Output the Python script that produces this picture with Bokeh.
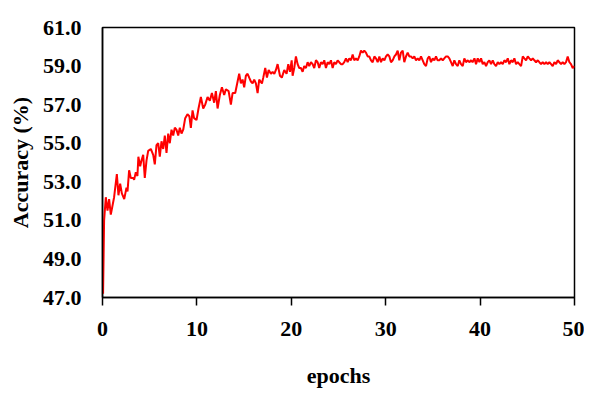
from bokeh.plotting import figure
from bokeh.models import Range1d, FixedTicker, NumeralTickFormatter, ColumnDataSource
from bokeh.embed import file_html
from bokeh.resources import INLINE

epochs = [0.06, 0.17, 0.35, 0.53, 0.7, 0.88, 1.23, 1.52, 1.69, 1.87, 2.05, 2.3, 2.54, 2.65, 2.82, 3.0,
          3.25, 3.35, 3.53, 3.7, 3.8, 3.99, 4.13, 4.31, 4.48, 4.66, 4.84, 5.12, 5.37, 5.54, 5.72, 5.9,
          6.07, 6.25, 6.43, 6.6, 6.78, 6.96, 7.13, 7.31, 7.49, 7.66, 7.84, 8.02, 8.19, 8.37, 8.55, 8.76,
          9.0, 9.2, 9.36, 9.54, 9.7, 9.96, 10.17, 10.42, 10.67, 10.88, 11.13, 11.37, 11.59, 11.83, 12.01,
          12.19, 12.43, 12.65, 12.89, 13.07, 13.36, 13.6, 13.78, 14.06, 14.31, 14.48, 14.66, 14.84, 15.01,
          15.19, 15.37, 15.54, 15.72, 15.9, 16.07, 16.25, 16.43, 16.6, 16.89, 17.03, 17.24, 17.42, 17.6,
          17.84, 18.02, 18.2, 18.37, 18.55, 18.8, 19.0, 19.25, 19.5, 19.68, 19.86, 20.04, 20.14, 20.31,
          20.49, 20.67, 20.84, 21.02, 21.2, 21.37, 21.55, 21.73, 21.9, 22.08, 22.26, 22.43, 22.61, 22.79,
          22.96, 23.14, 23.32, 23.49, 23.67, 23.85, 24.02, 24.2, 24.38, 24.55, 24.73, 24.91, 25.08, 25.26,
          25.44, 25.61, 25.79, 25.97, 26.14, 26.32, 26.5, 26.67, 26.85, 27.03, 27.2, 27.38, 27.56, 27.73,
          27.91, 28.09, 28.26, 28.44, 28.62, 28.8, 28.97, 29.15, 29.33, 29.5, 29.68, 29.86, 30.03, 30.21,
          30.39, 30.56, 30.74, 30.92, 31.09, 31.27, 31.44, 31.62, 31.8, 31.97, 32.15, 32.33, 32.5, 32.68,
          32.86, 33.03, 33.21, 33.39, 33.56, 33.74, 33.92, 34.09, 34.27, 34.45, 34.62, 34.8, 34.98, 35.15,
          35.33, 35.5, 35.68, 35.86, 36.04, 36.21, 36.39, 36.57, 36.74, 36.92, 37.1, 37.27, 37.45, 37.63,
          37.8, 37.98, 38.16, 38.33, 38.51, 38.69, 38.86, 39.04, 39.2, 39.4, 39.57, 39.75, 39.93, 40.1,
          40.28, 40.45, 40.63, 40.81, 40.98, 41.16, 41.34, 41.51, 41.69, 41.87, 42.04, 42.22, 42.4, 42.57,
          42.75, 42.93, 43.1, 43.28, 43.46, 43.63, 43.81, 43.99, 44.16, 44.34, 44.52, 44.69, 44.87, 45.05,
          45.22, 45.4, 45.58, 45.75, 45.93, 46.11, 46.28, 46.46, 46.63, 46.81, 46.99, 47.16, 47.34, 47.52,
          47.69, 47.87, 48.05, 48.22, 48.4, 48.58, 48.75, 48.93, 49.1, 49.28, 49.46, 49.63, 49.81, 50.0]

accuracy = [47.2, 51.0, 52.2, 51.5, 52.1, 51.3, 52.2, 53.4, 52.3, 52.9, 52.4, 52.1, 52.7, 52.5, 53.6, 53.2,
            53.2, 53.1, 53.5, 53.3, 54.3, 53.8, 54.1, 54.4, 53.2, 54.1, 54.6, 54.7, 54.4, 53.9, 54.9, 55.0,
            54.3, 55.1, 54.7, 55.4, 54.5, 55.5, 55.0, 55.7, 55.4, 55.8, 55.7, 55.4, 55.8, 55.5, 55.7, 56.3,
            56.5, 56.4, 55.8, 56.7, 56.3, 56.2, 56.8, 57.4, 56.8, 57.0, 57.4, 57.2, 57.6, 57.1, 57.7,
            56.8, 57.5, 57.9, 57.5, 57.8, 57.7, 57.0, 57.6, 57.6, 58.2, 58.6, 58.1, 58.3, 57.9,
            58.5, 58.6, 58.4, 58.2, 58.1, 58.3, 58.1, 57.6, 58.3, 58.1, 58.4, 58.9, 58.4, 58.8,
            58.6, 58.7, 58.6, 58.8, 59.1, 58.5, 58.4, 58.8, 58.6, 59.1, 58.7, 59.3, 58.5, 58.9,
            59.5, 59.1, 58.9, 58.9, 58.7, 59.0, 58.9, 59.2, 59.0, 59.2, 59.1, 58.9, 59.3, 59.2,
            58.9, 59.2, 59.1, 59.3, 58.9, 59.2, 59.1, 59.3, 58.9, 59.2, 59.1, 59.3, 59.2, 59.1,
            59.1, 59.2, 59.4, 59.2, 59.4, 59.3, 59.6, 59.3, 59.4, 59.3, 59.5, 59.8, 59.7, 59.8,
            59.7, 59.5, 59.5, 59.3, 59.2, 59.5, 59.4, 59.2, 59.5, 59.2, 59.4, 59.3, 59.5, 59.6,
            59.5, 59.2, 59.3, 59.5, 59.6, 59.8, 59.3, 59.7, 59.8, 59.2, 59.5, 59.7, 59.5, 59.5,
            59.4, 59.5, 59.3, 59.4, 59.3, 59.5, 59.3, 59.1, 59.0, 59.4, 59.5, 59.2, 59.4, 59.3,
            59.5, 59.3, 59.3, 59.4, 59.3, 59.4, 59.5, 59.5, 59.4, 59.2, 59.0, 59.3, 59.1, 59.0,
            59.3, 59.1, 59.0, 59.4, 59.2, 59.3, 59.2, 59.3, 59.2, 59.4, 59.1, 59.4, 59.2, 59.4,
            59.1, 59.2, 59.0, 59.2, 59.3, 59.1, 59.3, 59.1, 59.0, 59.2, 59.1, 59.2, 59.1, 59.3,
            59.2, 59.4, 59.1, 59.3, 59.2, 59.4, 59.1, 59.2, 59.1, 59.0, 59.5, 59.4, 59.3, 59.5,
            59.4, 59.3, 59.4, 59.3, 59.2, 59.3, 59.2, 59.1, 59.2, 59.1, 59.2, 59.1, 59.2, 59.1,
            59.0, 59.2, 59.1, 59.3, 59.2, 59.1, 59.2, 59.1, 59.2, 59.5, 59.2, 59.1, 58.9, 59.0]

x_ticks = [0, 10, 20, 30, 40, 50]
y_ticks = [47, 49, 51, 53, 55, 57, 59, 61]

FONT = "Liberation Serif"

p = figure(frame_width=472, frame_height=270, output_backend="svg", toolbar_location=None,
           x_range=Range1d(0, 50), y_range=Range1d(47, 61),
           min_border_left=102, min_border_right=10, min_border_top=27, min_border_bottom=86)

src = ColumnDataSource(dict(x=epochs, y=accuracy))
p.line("x", "y", source=src, line_color="#ff0000", line_width=2)

p.xgrid.visible = False
p.ygrid.visible = False
p.outline_line_color = "black"
p.outline_line_width = 1.5
p.outline_line_alpha = 1.0

xa = p.xaxis[0]
xa.ticker = FixedTicker(ticks=x_ticks)
xa.minor_tick_line_color = None
xa.major_tick_in = 0
xa.major_tick_out = 8
xa.major_tick_line_width = 1.5
xa.axis_line_width = 1.5
xa.major_label_standoff = 16
xa.major_label_text_font = FONT
xa.major_label_text_font_style = "bold"
xa.major_label_text_font_size = "22px"
xa.major_label_text_color = "black"
xa.axis_label = "epochs"
xa.axis_label_text_font = FONT
xa.axis_label_text_font_style = "bold"
xa.axis_label_text_font_size = "22px"
xa.axis_label_text_color = "black"
xa.axis_label_standoff = 24

ya = p.yaxis[0]
ya.ticker = FixedTicker(ticks=y_ticks)
ya.formatter = NumeralTickFormatter(format="0.0")
ya.minor_tick_line_color = None
ya.major_tick_line_color = None
ya.major_tick_in = 0
ya.major_tick_out = 0
ya.axis_line_width = 1.5
ya.major_label_standoff = 21
ya.major_label_text_font = FONT
ya.major_label_text_font_style = "bold"
ya.major_label_text_font_size = "22px"
ya.major_label_text_color = "black"
ya.axis_label = "Accuracy (%)"
ya.axis_label_text_font = FONT
ya.axis_label_text_font_style = "bold"
ya.axis_label_text_font_size = "22px"
ya.axis_label_text_color = "black"
ya.axis_label_standoff = 7

open("out.html", "w").write(file_html(p, INLINE))
